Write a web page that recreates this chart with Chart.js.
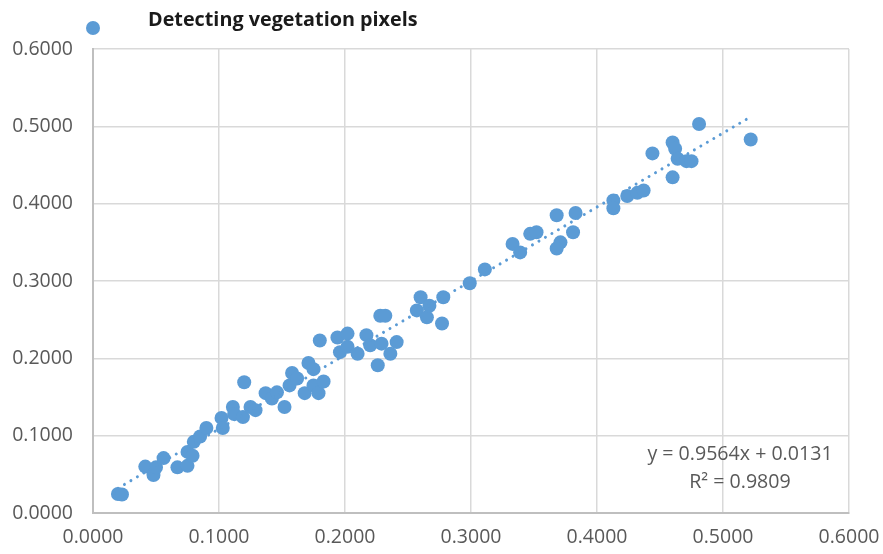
<!DOCTYPE html>
<html>
<head>
<meta charset="utf-8">
<script src="https://cdn.jsdelivr.net/npm/chart.js@4/dist/chart.umd.min.js"></script>
<style>
  html, body { margin: 0; padding: 0; background: #ffffff; }
  #wrap { width: 883px; height: 554px; position: relative; }
</style>
</head>
<body>
<div id="wrap"><canvas id="chart" width="883" height="554"></canvas></div>
<script>
// Observed vs detected vegetation pixel fractions
const seriesName = 'Detecting vegetation pixels';
const xValues = [
  0.0198, 0.0230, 0.0415, 0.0480, 0.0500, 0.0560, 0.0670, 0.0750, 0.0750, 0.0790,
  0.0800, 0.0850, 0.0900, 0.1020, 0.1030, 0.1110, 0.1120, 0.1200, 0.1190, 0.1250,
  0.1290, 0.1370, 0.1420, 0.1460, 0.1520, 0.1560, 0.1580, 0.1620, 0.1680, 0.1710,
  0.1750, 0.1750, 0.1790, 0.1830, 0.1800, 0.1940, 0.2020, 0.1960, 0.2020, 0.2100,
  0.2170, 0.2200, 0.2260, 0.2280, 0.2320, 0.2290, 0.2360, 0.2410, 0.2600, 0.2570,
  0.2650, 0.2670, 0.2780, 0.2770, 0.2990, 0.3110, 0.3330, 0.3390, 0.3470, 0.3520,
  0.3680, 0.3830, 0.3710, 0.3680, 0.3810, 0.4130, 0.4130, 0.4240, 0.4320, 0.4370,
  0.4440, 0.4600, 0.4620, 0.4640, 0.4710, 0.4750, 0.4600, 0.4810, 0.5220
];
const yValues = [
  0.0245, 0.0240, 0.0600, 0.0490, 0.0590, 0.0710, 0.0590, 0.0610, 0.0790, 0.0740,
  0.0920, 0.0990, 0.1100, 0.1230, 0.1100, 0.1370, 0.1280, 0.1690, 0.1240, 0.1370,
  0.1330, 0.1550, 0.1480, 0.1560, 0.1370, 0.1650, 0.1810, 0.1740, 0.1550, 0.1940,
  0.1860, 0.1650, 0.1550, 0.1700, 0.2230, 0.2270, 0.2320, 0.2080, 0.2150, 0.2060,
  0.2300, 0.2170, 0.1910, 0.2550, 0.2550, 0.2190, 0.2060, 0.2210, 0.2790, 0.2620,
  0.2530, 0.2680, 0.2790, 0.2450, 0.2970, 0.3150, 0.3480, 0.3370, 0.3610, 0.3630,
  0.3850, 0.3880, 0.3500, 0.3420, 0.3630, 0.4040, 0.3940, 0.4100, 0.4140, 0.4170,
  0.4650, 0.4790, 0.4710, 0.4580, 0.4550, 0.4550, 0.4340, 0.5030, 0.4830
];
const axisTicks = [0, 0.1, 0.2, 0.3, 0.4, 0.5, 0.6];

// Linear trendline as reported with the chart
const trendSlope = 0.9564;
const trendIntercept = 0.0131;
const trendR2 = 0.9809;

const pointColor = '#5B9BD5';
const textColor = '#595959';
const fontFamily = '"Open Sans", "Liberation Sans", sans-serif';

const scatterPoints = xValues.map((x, i) => ({ x: x, y: yValues[i] }));
const xMin = Math.min(...xValues);
const xMax = Math.max(...xValues);
const trendPoints = [xMin, xMax].map(x => ({ x: x, y: trendSlope * x + trendIntercept }));

// Header marker + title, and the trendline equation box
const decorations = {
  id: 'decorations',
  afterDraw(chart) {
    const ctx = chart.ctx;
    ctx.save();
    // series marker
    ctx.fillStyle = pointColor;
    ctx.beginPath();
    ctx.arc(93, 28, 7, 0, Math.PI * 2);
    ctx.fill();
    // series title
    ctx.fillStyle = '#1a1a1a';
    ctx.font = 'bold 19.8px ' + fontFamily;
    ctx.textBaseline = 'middle';
    ctx.textAlign = 'left';
    ctx.fillText(seriesName, 148, 20);
    // equation
    ctx.fillStyle = textColor;
    ctx.font = '19.6px ' + fontFamily;
    ctx.textAlign = 'center';
    const eq = 'y = ' + trendSlope.toFixed(4) + 'x + ' + trendIntercept.toFixed(4);
    ctx.fillText(eq, 740, 454);
    ctx.fillText('R\u00B2 = ' + trendR2.toFixed(4), 740, 482);
    ctx.restore();
  }
};

new Chart(document.getElementById('chart'), {
  type: 'scatter',
  data: {
    datasets: [
      {
        label: seriesName,
        data: scatterPoints,
        backgroundColor: pointColor,
        borderWidth: 0,
        pointRadius: 7,
        pointHoverRadius: 7,
        order: 2
      },
      {
        label: 'Linear trend',
        type: 'line',
        data: trendPoints,
        borderColor: pointColor,
        borderWidth: 3,
        borderDash: [0.01, 7.5],
        borderCapStyle: 'round',
        pointRadius: 0,
        fill: false,
        order: 1
      }
    ]
  },
  options: {
    responsive: false,
    animation: false,
    layout: { padding: { top: 49, right: 34, left: 0, bottom: 0 } },
    plugins: {
      legend: { display: false },
      tooltip: { enabled: false }
    },
    scales: {
      x: {
        type: 'linear',
        min: 0,
        max: 0.6,
        afterBuildTicks(scale) { scale.ticks = axisTicks.map(v => ({ value: v })); },
        afterFit(scale) {
          scale.height = 41;
          scale.paddingLeft = 0;
          scale.paddingRight = 0;
        },
        ticks: {
          callback: v => Number(v).toFixed(4),
          color: textColor,
          font: { family: fontFamily, size: 19.5 },
          padding: 13,
          maxRotation: 0
        },
        grid: { color: '#d9d9d9', lineWidth: 1.5, drawTicks: false },
        border: { color: '#bfbfbf', width: 2 }
      },
      y: {
        type: 'linear',
        min: 0,
        max: 0.6,
        afterBuildTicks(scale) { scale.ticks = axisTicks.map(v => ({ value: v })); },
        afterFit(scale) {
          scale.width = 93;
          scale.paddingTop = 0;
          scale.paddingBottom = 0;
        },
        ticks: {
          callback: v => Number(v).toFixed(4),
          color: textColor,
          font: { family: fontFamily, size: 19.5 },
          padding: 20
        },
        grid: { color: '#d9d9d9', lineWidth: 1.5, drawTicks: false },
        border: { color: '#bfbfbf', width: 2 }
      }
    }
  },
  plugins: [decorations]
});
</script>
</body>
</html>
